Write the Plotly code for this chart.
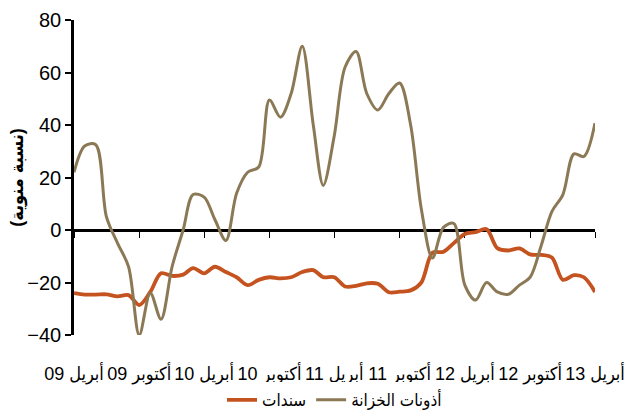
import pandas as pd
import plotly.graph_objects as go

# Monthly observations, April 2009 - April 2013 (percent)
months = pd.date_range("2009-04-01", "2013-04-01", freq="MS")

treasury_bills = [22, 32, 32.5, 5, -5, -14, -40, -24, -34, -14, 0, 13.5, 12.5, 4, -4,
                  14, 22, 24, 49.5, 43, 52, 70, 40, 17, 36, 62, 68, 52, 45.7, 52, 56,
                  40, 8, -10.7, 1, 2.5, -21, -26.7, -20, -23.6, -24.5, -21, -18, -6, 7,
                  13.5, 29, 28, 40.7]

bonds = [-24, -24.6, -24.6, -24.5, -25.3, -24.8, -28.6, -23.6, -16.5, -17.5, -17,
         -14.5, -16.5, -14, -16, -18, -21, -19, -18, -18.4, -18, -16, -15.3, -18, -18,
         -21.5, -21.3, -20.3, -20.5, -23.7, -23.5, -23, -20, -8.7, -8.3, -5, -1.5, -0.8,
         0.3, -6.9, -7.8, -7, -9.3, -9.5, -10.5, -19, -17.2, -18, -23.6]

tick_dates = pd.date_range("2009-04-01", "2013-04-01", freq="6MS")
tick_labels = ["أبريل 09", "أكتوبر 09", "أبريل 10", "أكتوبر 10", "أبريل 11",
               "أكتوبر 11", "أبريل 12", "أكتوبر 12", "أبريل 13"]

y_title = "(نسبة منوية)"
name_bonds = "سندات"
name_bills = "أذونات الخزانة"

ORANGE = "#C4531F"
TAN = "#8B7956"
FONT = "Liberation Sans, DejaVu Sans Condensed, Arial, sans-serif"

rtl = lambda s: "\u202b" + s + "\u202c"

fig = go.Figure()
fig.add_trace(go.Scatter(
    x=months, y=bonds, name=name_bonds, mode="lines",
    line=dict(color=ORANGE, width=3.8, shape="spline", smoothing=0.9),
    xaxis="x", yaxis="y",
))
fig.add_trace(go.Scatter(
    x=months, y=treasury_bills, name=name_bills, mode="lines",
    line=dict(color=TAN, width=3, shape="spline", smoothing=0.9),
    xaxis="x2", yaxis="y",
))

x_range = [months[0], months[-1]]

fig.update_layout(
    width=640, height=414,
    margin=dict(l=74, r=45, t=20, b=79, autoexpand=False),
    paper_bgcolor="white", plot_bgcolor="white",
    font=dict(family=FONT, color="black"),
    showlegend=True,
    legend=dict(orientation="h", x=0.5, xanchor="center", y=-0.15, yanchor="top",
                font=dict(size=17, family=FONT), traceorder="normal",
                itemwidth=30, tracegroupgap=0),
    xaxis=dict(
        range=x_range, showgrid=False, zeroline=False, showline=False,
        tickvals=tick_dates, ticktext=[rtl(t) for t in tick_labels],
        ticks="outside", ticklen=22, tickcolor="rgba(0,0,0,0)", tickangle=0,
        tickfont=dict(size=18, family=FONT), automargin=False,
    ),
    xaxis2=dict(
        range=x_range, overlaying="x", anchor="free", position=1/3,
        showgrid=False, zeroline=False, showline=True, linecolor="black",
        linewidth=2.5, tickvals=tick_dates, ticks="outside", ticklen=6,
        tickwidth=1.3, tickcolor="black", showticklabels=False,
        layer="below traces",
    ),
    yaxis=dict(
        range=[-40, 80], dtick=20, tick0=0, showgrid=False, zeroline=False,
        showline=True, linecolor="black", linewidth=2.5,
        ticks="outside", ticklen=6, tickwidth=2, tickcolor="black",
        tickfont=dict(size=20, family=FONT), automargin=False,
        title=dict(text="<b>" + y_title + "</b>", font=dict(size=18, family=FONT),
                   standoff=0),
    ),
)

fig.write_html("out.html")
